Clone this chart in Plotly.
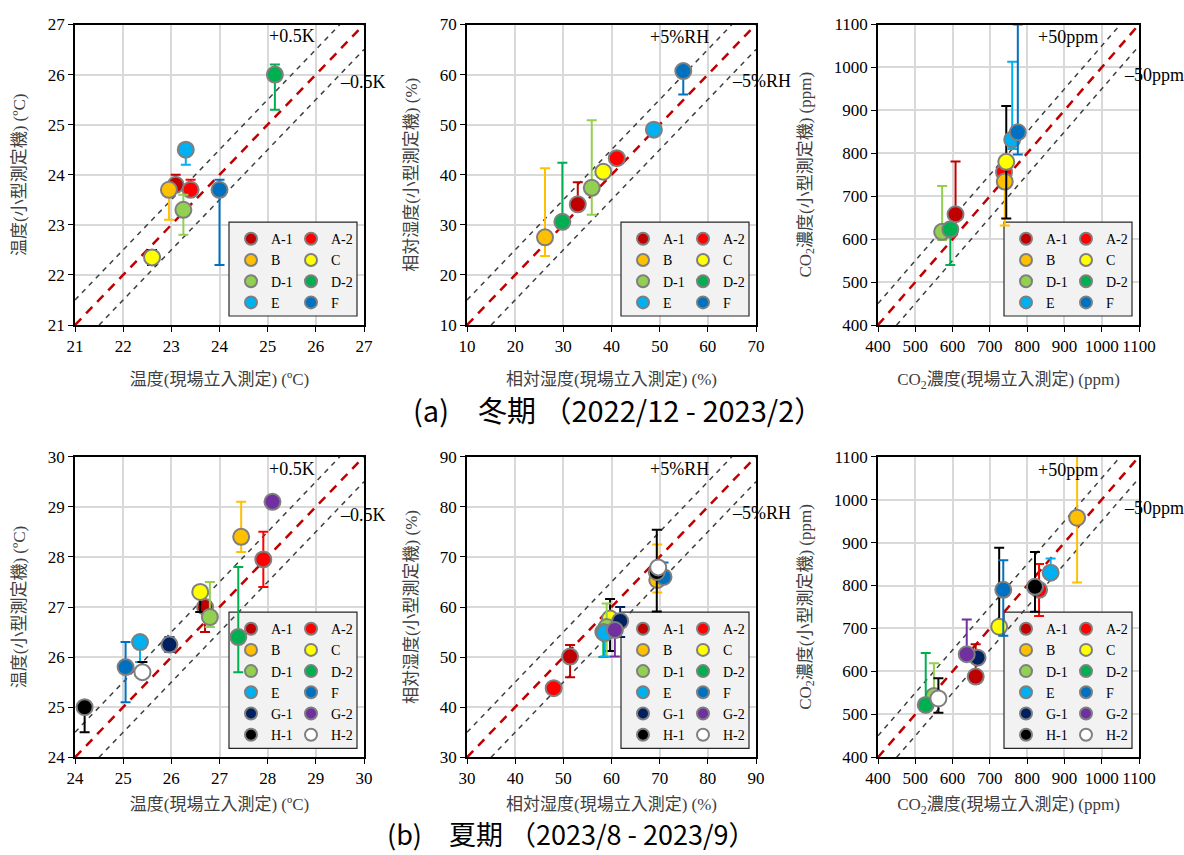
import numpy as np
import plotly.graph_objects as go

# ---------------- measurement sites ----------------
SITES_WINTER = ["A-1", "A-2", "B", "C", "D-1", "D-2", "E", "F"]
SITES_SUMMER = ["A-1", "A-2", "B", "C", "D-1", "D-2", "E", "F",
                "G-1", "G-2", "H-1", "H-2"]

# ---------------- winter (2022/12 - 2023/2) ----------------
winter_temp_site = [23.09, 23.40, 22.95, 22.60, 23.25, 25.15, 23.30, 24.00]
winter_temp_device = [23.80, 23.70, 23.70, 22.35, 23.30, 26.00, 24.50, 23.70]
winter_temp_err_up = [0.20, 0.20, 0.00, 0.15, 0.30, 0.20, 0.00, 0.20]
winter_temp_err_dn = [0.00, 0.00, 0.60, 0.15, 0.50, 0.70, 0.30, 1.50]

winter_rh_site = [33.0, 41.1, 26.2, 38.3, 35.9, 29.8, 48.8, 54.9]
winter_rh_device = [34.1, 43.3, 27.5, 40.6, 37.4, 30.6, 49.0, 60.7]
winter_rh_err_up = [4.4, 0.0, 13.8, 0.0, 13.5, 11.8, 0.0, 0.0]
winter_rh_err_dn = [0.0, 1.3, 3.7, 0.0, 5.4, 0.0, 0.0, 4.7]

winter_co2_site = [608, 738, 740, 744, 572, 594, 760, 775]
winter_co2_device = [658, 756, 734, 780, 617, 623, 832, 849]
winter_co2_err_up = [123, 0, 0, 130, 107, 0, 181, 251]
winter_co2_err_dn = [0, 0, 102, 132, 19, 83, 22, 52]

# ---------------- summer (2023/8 - 2023/9) ----------------
summer_temp_site = [26.70, 27.91, 27.45, 26.60, 26.80, 27.39, 25.35, 25.05,
                    25.96, 28.10, 24.20, 25.40]
summer_temp_device = [27.00, 27.95, 28.40, 27.30, 26.80, 26.40, 26.30, 25.80,
                      26.25, 29.10, 25.00, 25.70]
summer_temp_err_up = [0.00, 0.55, 0.70, 0.00, 0.70, 1.40, 0.00, 0.50,
                      0.15, 0.00, 0.00, 0.20]
summer_temp_err_dn = [0.50, 0.55, 0.30, 0.40, 0.20, 0.70, 0.40, 0.70,
                      0.15, 0.00, 0.50, 0.00]

summer_rh_site = [51.4, 48.0, 69.5, 59.7, 59.0, 58.3, 58.6, 70.8,
                  61.8, 60.7, 69.4, 69.7]
summer_rh_device = [50.1, 43.8, 65.4, 57.7, 56.0, 55.0, 54.8, 66.0,
                    57.2, 55.4, 67.0, 67.9]
summer_rh_err_up = [2.3, 0.0, 7.1, 3.9, 4.7, 1.4, 0.0, 2.9,
                    2.8, 0.0, 8.4, 0.0]
summer_rh_err_dn = [4.1, 0.0, 2.5, 6.5, 6.0, 5.0, 4.7, 0.0,
                    3.2, 5.3, 7.9, 0.0]

summer_co2_site = [662, 832, 934, 725, 550, 528, 863, 736,
                   667, 638, 821, 562]
summer_co2_device = [588, 790, 958, 704, 543, 522, 830, 790,
                     632, 640, 797, 537]
summer_co2_err_up = [75, 60, 150, 184, 76, 121, 33, 69,
                     0, 81, 81, 47]
summer_co2_err_dn = [0, 61, 151, 0, 0, 0, 0, 107,
                     0, 0, 58, 33]

# ---------------- styling ----------------
MARKER_COLORS = {"A-1": "#C00000", "A-2": "#FF0000", "B": "#FFC000",
                 "C": "#FFFF00", "D-1": "#92D050", "D-2": "#00B050",
                 "E": "#00B0F0", "F": "#0070C0", "G-1": "#002060",
                 "G-2": "#7030A0", "H-1": "#000000", "H-2": "#FFFFFF"}
BAR_COLORS = dict(MARKER_COLORS, **{"C": "#000000", "H-2": "#000000"})

SERIF = "Liberation Serif, Noto Sans CJK JP"
TITLE_COLOR = "#404040"
W, H = 1184, 855

# plot-area pixel boxes: columns (left, right) and rows (top, bottom)
COL_PX = [(75, 364), (467, 756), (878, 1139)]
ROW_PX = [(24.5, 325), (456.7, 757.3)]
X_TITLE_STANDOFF = [18, 11]

PANELS = [
    dict(sites=SITES_WINTER, x=winter_temp_site, y=winter_temp_device,
         up=winter_temp_err_up, dn=winter_temp_err_dn, rng=(21, 27), dtick=1,
         band=0.5, plus="+0.5K", minus="–0.5K",
         plus_at=(26.02, 26.77), minus_at=(26.46, 25.85),
         xtitle="温度(現場立入測定) (ºC)", ytitle="温度(小型測定機) (ºC)"),
    dict(sites=SITES_WINTER, x=winter_rh_site, y=winter_rh_device,
         up=winter_rh_err_up, dn=winter_rh_err_dn, rng=(10, 70), dtick=10,
         band=5, plus="+5%RH", minus="–5%RH",
         plus_at=(60.6, 67.56), minus_at=(64.6, 58.7),
         xtitle="相対湿度(現場立入測定) (%)", ytitle="相対湿度(小型測定機) (%)"),
    dict(sites=SITES_WINTER, x=winter_co2_site, y=winter_co2_device,
         up=winter_co2_err_up, dn=winter_co2_err_dn, rng=(400, 1100), dtick=100,
         band=50, plus="+50ppm", minus="–50ppm",
         plus_at=(995, 1070), minus_at=(1054, 982),
         xtitle="CO<sub>2</sub>濃度(現場立入測定) (ppm)",
         ytitle="CO<sub>2</sub>濃度(小型測定機) (ppm)"),
    dict(sites=SITES_SUMMER, x=summer_temp_site, y=summer_temp_device,
         up=summer_temp_err_up, dn=summer_temp_err_dn, rng=(24, 30), dtick=1,
         band=0.5, plus="+0.5K", minus="–0.5K",
         plus_at=(29.02, 29.75), minus_at=(29.47, 28.84),
         xtitle="温度(現場立入測定) (ºC)", ytitle="温度(小型測定機) (ºC)"),
    dict(sites=SITES_SUMMER, x=summer_rh_site, y=summer_rh_device,
         up=summer_rh_err_up, dn=summer_rh_err_dn, rng=(30, 90), dtick=10,
         band=5, plus="+5%RH", minus="–5%RH",
         plus_at=(80.6, 87.5), minus_at=(84.6, 78.8),
         xtitle="相対湿度(現場立入測定) (%)", ytitle="相対湿度(小型測定機) (%)"),
    dict(sites=SITES_SUMMER, x=summer_co2_site, y=summer_co2_device,
         up=summer_co2_err_up, dn=summer_co2_err_dn, rng=(400, 1100), dtick=100,
         band=50, plus="+50ppm", minus="–50ppm",
         plus_at=(995, 1069), minus_at=(1054, 980),
         xtitle="CO<sub>2</sub>濃度(現場立入測定) (ppm)",
         ytitle="CO<sub>2</sub>濃度(小型測定機) (ppm)"),
]

LEGEND_FONT = 14
LEGEND_COL_W = 60
LEGEND_ITEM_H = 1.3 * LEGEND_FONT + 3

fig = go.Figure()
layout = {}
annotations = []
shapes = []

for i, p in enumerate(PANELS):
    n = i + 1
    row, col = divmod(i, 3)
    sfx = "" if n == 1 else str(n)
    xref, yref = "x" + sfx, "y" + sfx
    left, right = COL_PX[col]
    top, bottom = ROW_PX[row]
    lo, hi = p["rng"]
    band = p["band"]

    # pixel -> data helpers for this subplot (legend frame placement)
    def to_dx(px, left=left, right=right, lo=lo, hi=hi):
        return lo + (px - left) / (right - left) * (hi - lo)

    def to_dy(py, top=top, bottom=bottom, lo=lo, hi=hi):
        return lo + (bottom - py) / (bottom - top) * (hi - lo)

    # 1:1 line and the +/- tolerance band
    ends = np.array([lo, hi], dtype=float)
    fig.add_trace(go.Scatter(x=ends + [0, -band], y=ends + [band, 0], mode="lines",
                             line=dict(color="#404040", width=1.5, dash="5px,5px"),
                             xaxis=xref, yaxis=yref, showlegend=False, hoverinfo="skip"))
    fig.add_trace(go.Scatter(x=ends + [band, 0], y=ends + [0, -band], mode="lines",
                             line=dict(color="#404040", width=1.5, dash="5px,5px"),
                             xaxis=xref, yaxis=yref, showlegend=False, hoverinfo="skip"))
    fig.add_trace(go.Scatter(x=ends, y=ends, mode="lines",
                             line=dict(color="#C00000", width=2.5, dash="9px,7px"),
                             xaxis=xref, yaxis=yref, showlegend=False, hoverinfo="skip"))

    # legends: two columns inside a shared framed box
    n_rows = (len(p["sites"]) + 1) // 2
    leg_l = "legend" + ("" if 2 * i + 1 == 1 else str(2 * i + 1))
    leg_r = "legend" + str(2 * i + 2)
    box_h = n_rows * LEGEND_ITEM_H + 9
    box_w = 2 * LEGEND_COL_W + 8
    box_r = right - 7
    box_b = bottom - 9
    box_l = box_r - box_w
    box_t = box_b - box_h

    for k, site in enumerate(p["sites"]):
        fig.add_trace(go.Scatter(
            x=[p["x"][k]], y=[p["y"][k]], mode="markers", name=site,
            marker=dict(size=16, color=MARKER_COLORS[site],
                        line=dict(color="#7F7F7F", width=2)),
            error_y=dict(type="data", symmetric=False, array=[p["up"][k]],
                         arrayminus=[p["dn"][k]], color=BAR_COLORS[site],
                         thickness=2, width=5),
            xaxis=xref, yaxis=yref, legend=leg_l if k % 2 == 0 else leg_r,
        ))

    for name, x0 in ((leg_l, box_l + 2), (leg_r, box_l + 2 + LEGEND_COL_W)):
        layout[name] = dict(
            x=x0 / W, y=1 - (box_t + 1) / H, xanchor="left", yanchor="top",
            bgcolor="rgba(0,0,0,0)", borderwidth=0, itemsizing="constant",
            font=dict(family="Liberation Serif", size=LEGEND_FONT, color="black"),
            tracegroupgap=0,
        )

    shapes.append(dict(type="rect", xref=xref, yref=yref,
                       x0=to_dx(box_l), x1=to_dx(box_r),
                       y0=to_dy(box_b), y1=to_dy(box_t),
                       fillcolor="#F2F2F2", line=dict(color="#262626", width=1.2),
                       layer="between"))

    axis_common = dict(
        range=[lo, hi], dtick=p["dtick"], tick0=lo, showgrid=True,
        gridcolor="#D9D9D9", gridwidth=1.5, zeroline=False,
        showline=True, linecolor="black", linewidth=1.5, mirror=True,
        ticks="outside", ticklen=5, tickcolor="black",
        tickfont=dict(family="Liberation Serif", size=17, color="black"),
        automargin=False,
    )
    layout["xaxis" + sfx] = dict(
        axis_common, domain=[left / W, right / W], anchor=yref,
        title=dict(text=p["xtitle"], standoff=X_TITLE_STANDOFF[row],
                   font=dict(family=SERIF, size=17, color=TITLE_COLOR)))
    layout["yaxis" + sfx] = dict(
        axis_common, domain=[1 - bottom / H, 1 - top / H], anchor=xref,
        title=dict(text=p["ytitle"], standoff=18,
                   font=dict(family=SERIF, size=17, color=TITLE_COLOR)))

    annotations.append(dict(x=p["plus_at"][0], y=p["plus_at"][1], xref=xref, yref=yref,
                            text=p["plus"], showarrow=False, xanchor="right",
                            yanchor="middle",
                            font=dict(family="Liberation Serif", size=18, color="black")))
    annotations.append(dict(x=p["minus_at"][0], y=p["minus_at"][1], xref=xref, yref=yref,
                            text=p["minus"], showarrow=False, xanchor="left",
                            yanchor="middle",
                            font=dict(family="Liberation Serif", size=18, color="black")))

# period captions
annotations.append(dict(x=618 / W, y=1 - 409 / H, xref="paper", yref="paper",
                        text="(a)　冬期 （2022/12 - 2023/2）", showarrow=False,
                        xanchor="center", yanchor="middle",
                        font=dict(family="Noto Sans CJK JP", size=29, color="black")))
annotations.append(dict(x=571 / W, y=0, xref="paper", yref="paper",
                        text="(b)　夏期 （2023/8 - 2023/9）", showarrow=False,
                        xanchor="center", yanchor="bottom",
                        font=dict(family="Noto Sans CJK JP", size=27, color="black")))

fig.update_layout(
    width=W, height=H, margin=dict(l=0, r=0, t=0, b=0),
    paper_bgcolor="white", plot_bgcolor="white",
    annotations=annotations, shapes=shapes, **layout,
)

fig.write_html("out.html")
